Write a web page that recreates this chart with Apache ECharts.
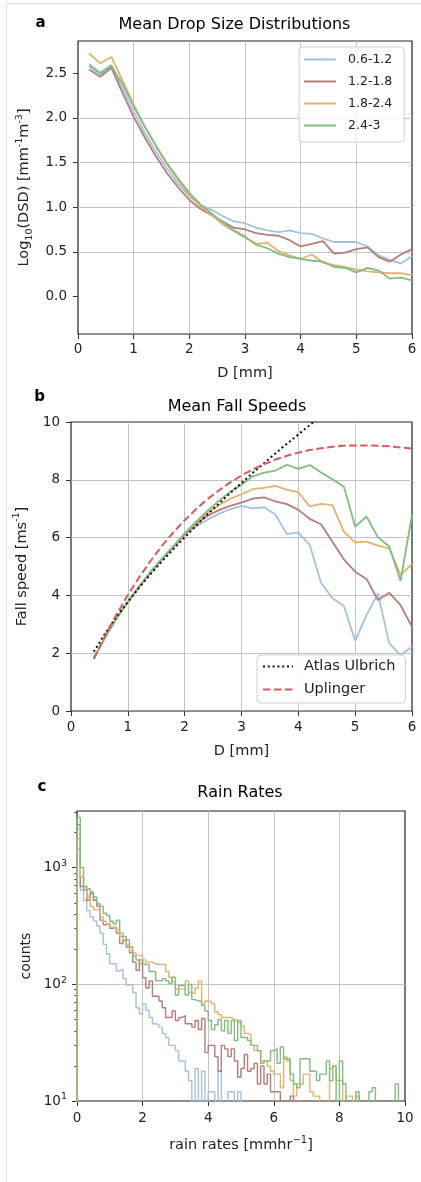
<!DOCTYPE html>
<html>
<head>
<meta charset="utf-8">
<script src="https://cdn.jsdelivr.net/npm/echarts@6/dist/echarts.min.js"></script>
<style>
    html, body { margin: 0; padding: 0; background: #fff; }
    #frame { position: absolute; left: 6px; top: 3px; width: 430px; height: 1190px;
             border-left: 1px solid #dcdcdc; border-top: 1px solid #dcdcdc; }
    #chart { position: absolute; left: 0; top: 0; width: 421px; height: 1182px; }
</style>
</head>
<body>
<div id="frame"></div>
<div id="chart"></div>
<script>
// size classes, one colour each (same order in all three panels)
var sizeBins = ['0.6-1.2', '1.2-1.8', '1.8-2.4', '2.4-3'];
var binColors = ['#a4c0e4', '#b87b7b', '#e9b06e', '#80bd80'];

// ---- (a) mean drop size distributions: log10(DSD) against D [mm]
var dsdD = [0.2, 0.4, 0.6, 0.8, 1.0, 1.2, 1.4, 1.6, 1.8, 2.0, 2.2, 2.4, 2.6, 2.8, 3.0,
            3.2, 3.4, 3.6, 3.8, 4.0, 4.2, 4.4, 4.6, 4.8, 5.0, 5.2, 5.4, 5.6, 5.8, 6.0];
var dsd06 = [2.60, 2.51, 2.59, 2.33, 2.07, 1.83, 1.62, 1.43, 1.26, 1.12, 1.02, 0.97, 0.90, 0.84, 0.82,
             0.77, 0.74, 0.72, 0.74, 0.71, 0.70, 0.65, 0.61, 0.61, 0.61, 0.56, 0.46, 0.41, 0.37, 0.45];
var dsd12 = [2.54, 2.46, 2.56, 2.28, 2.01, 1.78, 1.57, 1.38, 1.22, 1.08, 0.98, 0.91, 0.84, 0.77, 0.75,
             0.71, 0.69, 0.68, 0.63, 0.56, 0.59, 0.62, 0.48, 0.49, 0.53, 0.55, 0.44, 0.39, 0.47, 0.53];
var dsd18 = [2.72, 2.61, 2.68, 2.42, 2.15, 1.90, 1.68, 1.48, 1.30, 1.14, 1.01, 0.91, 0.81, 0.73, 0.66,
             0.59, 0.60, 0.51, 0.46, 0.42, 0.47, 0.38, 0.35, 0.33, 0.30, 0.28, 0.27, 0.26, 0.26, 0.24];
var dsd24 = [2.58, 2.49, 2.58, 2.38, 2.13, 1.90, 1.69, 1.49, 1.32, 1.16, 1.03, 0.93, 0.83, 0.74, 0.67,
             0.58, 0.54, 0.48, 0.44, 0.42, 0.40, 0.39, 0.33, 0.32, 0.27, 0.32, 0.29, 0.20, 0.21, 0.18];
var dsdTicks = [0, 0.5, 1, 1.5, 2, 2.5];

// ---- (b) mean fall speeds [m/s] against D [mm]
var fallD = [0.4, 0.6, 0.8, 1.0, 1.2, 1.4, 1.6, 1.8, 2.0, 2.2, 2.4, 2.6, 2.8, 3.0, 3.2,
             3.4, 3.6, 3.8, 4.0, 4.2, 4.4, 4.6, 4.8, 5.0, 5.2, 5.4, 5.6, 5.8, 6.0];
var fall06 = [1.82, 2.55, 3.20, 3.75, 4.28, 4.78, 5.22, 5.65, 6.08, 6.38, 6.62, 6.82, 6.98, 7.10, 7.01,
              7.05, 6.79, 6.12, 6.18, 5.75, 4.44, 3.90, 3.63, 2.43, 3.32, 4.07, 2.34, 1.93, 2.22];
var fall12 = [1.82, 2.55, 3.20, 3.76, 4.30, 4.80, 5.25, 5.68, 6.12, 6.47, 6.75, 6.95, 7.10, 7.21, 7.35,
              7.39, 7.25, 7.16, 6.96, 6.65, 6.46, 5.86, 5.25, 4.82, 4.57, 3.84, 4.09, 3.66, 2.91];
var fall18 = [1.82, 2.55, 3.20, 3.77, 4.31, 4.81, 5.26, 5.70, 6.14, 6.52, 6.85, 7.12, 7.34, 7.50, 7.68,
              7.72, 7.79, 7.65, 7.57, 7.08, 7.17, 7.12, 6.21, 5.83, 5.86, 5.72, 5.63, 4.70, 5.09];
var fall24 = [1.82, 2.55, 3.20, 3.78, 4.32, 4.82, 5.27, 5.70, 6.15, 6.55, 6.92, 7.27, 7.58, 7.83, 8.12,
              8.25, 8.32, 8.52, 8.38, 8.51, 8.25, 8.02, 7.77, 6.38, 6.73, 6.01, 5.69, 4.50, 6.79];
var ulbrichD = [0.4, 0.6, 0.8, 1.0, 1.2, 1.4, 1.6, 1.8, 2.0, 2.2, 2.4, 2.6, 2.8, 3.0, 3.2,
                3.4, 3.6, 3.8, 4.0, 4.2, 4.4];
var ulbrichV = [2.05, 2.68, 3.26, 3.78, 4.27, 4.74, 5.18, 5.60, 6.01, 6.41, 6.80, 7.17, 7.54, 7.89, 8.24,
                8.58, 8.92, 9.25, 9.57, 9.89, 10.20];
var uplingerV = [1.80, 2.60, 3.34, 4.01, 4.63, 5.19, 5.71, 6.18, 6.60, 6.98, 7.33, 7.63, 7.91, 8.15, 8.36,
                 8.54, 8.70, 8.83, 8.94, 9.03, 9.09, 9.14, 9.18, 9.19, 9.19, 9.18, 9.16, 9.12, 9.08];

// ---- (c) rain rate histograms, counts per 0.1 mm/hr bin from 0 to 10
var BIN_W = 0.1;
var rr06 = [1450, 640, 520, 430, 380, 350, 316, 275, 220, 182,
            150, 150, 130, 135, 112, 98, 100, 85, 63, 56,
            68, 60, 52, 46, 45, 43, 38, 35, 30, 30,
            27, 22, 22, 18, 15, 4, 19, 6, 18, 5,
            12, 12, 4, 18, 4, 3, 12, 12, 4, 12,
            3, 2, 2, 1, 2, 1, 1, 2, 1, 1,
            1, 0, 1, 0, 0, 1, 0, 0, 0, 0,
            0, 0, 0, 0, 0, 0, 0, 0, 0, 0,
            0, 0, 0, 0, 0, 0, 0, 0, 0, 0,
            0, 0, 0, 0, 0, 0, 0, 0, 0, 0];
var rr12 = [2340, 690, 646, 525, 603, 525, 468, 355, 324, 331,
            302, 309, 275, 224, 240, 209, 186, 155, 132, 162,
            114, 93, 107, 79, 79, 72, 63, 52, 52, 59,
            49, 52, 54, 46, 46, 43, 49, 41, 51, 26,
            30, 30, 24, 18, 30, 28, 24, 28, 22, 16,
            19, 25, 18, 19, 21, 14, 20, 14, 17, 12,
            12, 12, 5, 4, 3, 11, 3, 2, 2, 1,
            1, 2, 1, 0, 1, 0, 0, 1, 0, 0,
            0, 0, 0, 0, 0, 0, 0, 0, 0, 0,
            0, 0, 0, 0, 0, 0, 0, 0, 0, 0];
var rr18 = [1780, 840, 690, 560, 465, 437, 437, 380, 347, 324,
            309, 309, 295, 257, 240, 219, 195, 186, 178, 174,
            162, 155, 155, 150, 148, 148, 148, 129, 115, 105,
            91, 91, 91, 107, 85, 83, 93, 107, 68, 72,
            71, 68, 58, 55, 52, 52, 52, 50, 49, 47,
            44, 38, 37, 30, 27, 27, 22, 22, 20, 18,
            17, 17, 13, 24, 22, 15, 11, 14, 14, 17,
            17, 12, 11, 11, 6, 8, 5, 19, 20, 15,
            15, 6, 11, 11, 6, 11, 5, 4, 3, 4,
            3, 2, 3, 2, 2, 2, 1, 2, 1, 1];
var rr24 = [2690, 1000, 690, 660, 620, 560, 490, 468, 407, 389,
            347, 331, 355, 275, 257, 240, 209, 174, 162, 151,
            148, 148, 129, 129, 107, 107, 112, 107, 102, 115,
            81, 98, 98, 81, 100, 74, 72, 72, 66, 59,
            49, 41, 45, 50, 40, 49, 38, 49, 33, 49,
            35, 35, 33, 30, 30, 27, 21, 22, 22, 27,
            28, 21, 29, 23, 23, 17, 14, 13, 23, 23,
            23, 18, 18, 15, 17, 17, 22, 15, 20, 10,
            22, 14, 6, 5, 7, 12, 4, 6, 5, 12,
            13, 7, 5, 3, 4, 6, 5, 14, 4, 3];
var countMajor = [10, 100, 1000];
var countMinor = [20, 30, 40, 50, 60, 70, 80, 90, 200, 300, 400, 500, 600, 700, 800, 900, 2000, 3000];

// empty bins cannot sit on a log axis; put them under the axis floor like matplotlib does
var LOG_FLOOR = 1;

var FONT = '"DejaVu Sans", "Noto Sans", sans-serif';
var INK = '#222';
var GRID_LINE = { show: true, showMinLine: false, showMaxLine: false, lineStyle: { color: '#c4c4c4', width: 1 } };
var NO_LINE = { show: false, onZero: false };

var pairs = function (xs, ys) {
    return xs.map(function (x, i) { return [x, ys[i]]; });
};
var stepData = function (counts) {
    var pts = [[0, LOG_FLOOR]];
    counts.forEach(function (c, i) {
        pts.push([+(i * BIN_W).toFixed(1), Math.max(c, LOG_FLOOR)]);
    });
    var last = counts[counts.length - 1];
    pts.push([counts.length * BIN_W, Math.max(last, LOG_FLOOR)]);
    pts.push([counts.length * BIN_W, LOG_FLOOR]);
    return pts;
};
var valueX = function (grid, max, interval, name, gap, margin) {
    return {
        gridIndex: grid, type: 'value', position: 'bottom', min: 0, max: max, interval: interval,
        name: name, nameLocation: 'middle', nameGap: gap,
        nameTextStyle: { fontSize: 14.5, color: INK, lineHeight: 20,
            rich: { sup: { fontSize: 10, lineHeight: 10, verticalAlign: 'top', color: INK } } },
        axisLine: NO_LINE,
        axisTick: { show: true, length: 5, lineStyle: { color: '#333' } },
        axisLabel: { fontSize: 13.5, color: INK, margin: margin },
        splitLine: GRID_LINE
    };
};
var yName = function (fs) {
    return { fontSize: fs, color: INK, lineHeight: 20,
        rich: {
            sup: { fontSize: 9.5, lineHeight: 10, verticalAlign: 'top', color: INK },
            sub: { fontSize: 9.5, lineHeight: 10, verticalAlign: 'bottom', color: INK }
        } };
};

var dsdSets = [dsd06, dsd12, dsd18, dsd24];
var fallSets = [fall06, fall12, fall18, fall24];
var rrSets = [rr06, rr12, rr18, rr24];

var series = [];
sizeBins.forEach(function (name, i) {
    series.push({
        type: 'line', name: name, xAxisIndex: 0, yAxisIndex: 0,
        data: pairs(dsdD, dsdSets[i]), symbol: 'none', clip: true,
        lineStyle: { color: binColors[i], width: 1.8 }, itemStyle: { color: binColors[i] }
    });
});
sizeBins.forEach(function (name, i) {
    series.push({
        type: 'line', name: 'fall ' + name, xAxisIndex: 1, yAxisIndex: 1,
        data: pairs(fallD, fallSets[i]), symbol: 'none', clip: true,
        lineStyle: { color: binColors[i], width: 1.8 }, itemStyle: { color: binColors[i] }
    });
});
series.push({
    type: 'line', name: 'Atlas Ulbrich', xAxisIndex: 1, yAxisIndex: 1,
    data: pairs(ulbrichD, ulbrichV), symbol: 'none', clip: true,
    lineStyle: { color: '#111', width: 2, type: [2, 2.8] }, itemStyle: { color: '#111' }
});
series.push({
    type: 'line', name: 'Uplinger', xAxisIndex: 1, yAxisIndex: 1,
    data: pairs(fallD, uplingerV), symbol: 'none', clip: true,
    lineStyle: { color: '#dc5a5a', width: 2, type: [7.5, 3.5] }, itemStyle: { color: '#dc5a5a' }
});
sizeBins.forEach(function (name, i) {
    series.push({
        type: 'line', name: 'rate ' + name, xAxisIndex: 2, yAxisIndex: 2,
        data: stepData(rrSets[i]), step: 'end', symbol: 'none', clip: true,
        lineStyle: { color: binColors[i], width: 1.4 }, itemStyle: { color: binColors[i] }
    });
});

var label = function (text, x, y, size, weight) {
    return { type: 'text', x: x, y: y, silent: true,
        style: { text: text, fontSize: size, fontWeight: weight || 'normal', fontFamily: FONT,
                 fill: '#000', align: 'center', verticalAlign: 'middle' } };
};
// legends: line sample only, the circle marker line series add is hidden
var legendBox = {
    orient: 'vertical', itemHeight: 14, selectedMode: false,
    itemStyle: { opacity: 0 },
    backgroundColor: 'rgba(255,255,255,0.85)', borderColor: '#d0d0d0', borderWidth: 1, borderRadius: 4
};

var chart = echarts.init(document.getElementById('chart'), null, { renderer: 'canvas' });
chart.setOption({
    animation: false,
    backgroundColor: 'transparent',
    textStyle: { fontFamily: FONT },
    grid: [
        { left: 78, top: 41, width: 334, height: 293, show: true, borderColor: '#222', borderWidth: 1.2, backgroundColor: 'transparent' },
        { left: 71, top: 422, width: 341, height: 289, show: true, borderColor: '#222', borderWidth: 1.2, backgroundColor: 'transparent' },
        { left: 77, top: 811, width: 328, height: 290, show: true, borderColor: '#222', borderWidth: 1.2, backgroundColor: 'transparent' }
    ],
    xAxis: [
        valueX(0, 6, 1, 'D [mm]', 29, 8),
        valueX(1, 6, 1, 'D [mm]', 30, 9),
        valueX(2, 10, 2, 'rain rates [mmhr{sup|\u22121}]', 34, 10)
    ],
    yAxis: [
        {
            gridIndex: 0, type: 'value', position: 'left', min: -0.42, max: 2.86,
            name: 'Log{sub|10}(DSD) [mm{sup|-1}m{sup|-3}]', nameLocation: 'middle', nameGap: 41,
            nameTextStyle: yName(14.5),
            axisLine: NO_LINE,
            axisTick: { show: true, length: 5, customValues: dsdTicks, lineStyle: { color: '#333' } },
            axisLabel: { fontSize: 13.5, color: INK, margin: 11, customValues: dsdTicks,
                         formatter: function (v) { return v.toFixed(1); } },
            splitLine: GRID_LINE
        },
        {
            gridIndex: 1, type: 'value', position: 'left', min: 0, max: 10, interval: 2,
            name: 'Fall speed [ms{sup|-1}]', nameLocation: 'middle', nameGap: 31,
            nameTextStyle: yName(14.5),
            axisLine: NO_LINE,
            axisTick: { show: true, length: 5, lineStyle: { color: '#333' } },
            axisLabel: { fontSize: 13.5, color: INK, margin: 11 },
            splitLine: GRID_LINE
        },
        {
            gridIndex: 2, type: 'log', logBase: 10, position: 'left', min: 10, max: 3060,
            name: 'counts', nameLocation: 'middle', nameGap: 41,
            nameTextStyle: { fontSize: 14, color: INK },
            axisLine: NO_LINE,
            axisTick: { show: true, length: 5, customValues: countMajor, lineStyle: { color: '#333' } },
            axisLabel: {
                fontSize: 13.5, color: INK, margin: 10, customValues: countMajor, lineHeight: 18,
                formatter: function (v) { return '10{sup|' + Math.round(Math.log10(v)) + '}'; },
                rich: { sup: { fontSize: 9.5, lineHeight: 10, verticalAlign: 'top', color: INK } }
            },
            splitLine: GRID_LINE
        },
        {
            // minor ticks of the log axis only
            gridIndex: 2, type: 'log', logBase: 10, position: 'left', offset: 0, min: 10, max: 3060,
            axisLine: NO_LINE,
            axisTick: { show: true, length: 2.5, customValues: countMinor, lineStyle: { color: '#333' } },
            axisLabel: { show: false },
            splitLine: { show: false }
        }
    ],
    legend: [
        echarts.util.merge({
            data: sizeBins, left: 299, top: 47,
            itemWidth: 32, itemGap: 9, padding: [6, 12, 10, 4],
            textStyle: { fontSize: 12.5, color: INK, padding: [0, 0, 0, 7] }
        }, legendBox),
        echarts.util.merge({
            data: ['Atlas Ulbrich', 'Uplinger'], left: 257, top: 655,
            itemWidth: 30, itemGap: 8, padding: [4, 10, 6, 5],
            textStyle: { fontSize: 14.5, color: INK, padding: [0, 0, 0, 6] }
        }, legendBox)
    ],
    graphic: [
        label('a', 40.5, 23, 15, 'bold'),
        label('Mean Drop Size Distributions', 234.5, 25, 16),
        label('b', 39.5, 397, 15, 'bold'),
        label('Mean Fall Speeds', 237, 407, 16),
        label('c', 42, 787, 15, 'bold'),
        label('Rain Rates', 240, 793, 16)
    ],
    series: series
});
</script>
</body>
</html>
